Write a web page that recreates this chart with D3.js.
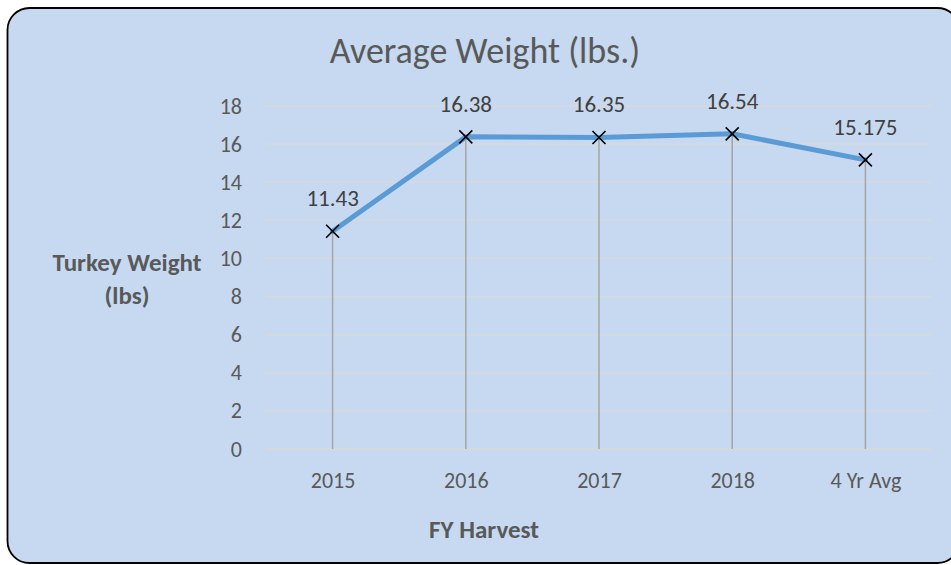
<!DOCTYPE html>
<html><head><meta charset="utf-8">
<script src="https://cdn.jsdelivr.net/npm/d3@7"></script>
<style>body{margin:0;background:#fff}svg{display:block}</style>
</head><body>
<svg id="c" width="951" height="565"></svg>
<script>
const categories = ["2015","2016","2017","2018","4 Yr Avg"];
const values = [11.43, 16.38, 16.35, 16.54, 15.175];
const valueLabels = ["11.43","16.38","16.35","16.54","15.175"];
const yTicks = [0,2,4,6,8,10,12,14,16,18];
const title = "Average Weight (lbs.)";
const xTitle = "FY Harvest";
const yTitle = ["Turkey Weight","(lbs)"];

const svg = d3.select("#c");
const font = "Carlito, Lato, 'Open Sans', sans-serif";
svg.append("rect").attr("x",7.5).attr("y",8).attr("width",952).attr("height",555)
  .attr("rx",22).attr("fill","#c6d9f0").attr("stroke","#000").attr("stroke-width",1.8);

const x = d3.scalePoint().domain(categories).range([266,932]).padding(0.5);
const y = d3.scaleLinear().domain([0,18]).range([449,106]);

// gridlines
svg.append("g").selectAll("line").data(yTicks).join("line")
  .attr("x1",266).attr("x2",932).attr("y1",d=>y(d)).attr("y2",d=>y(d))
  .attr("stroke","#d9d9d9").attr("stroke-width",1.3);

// y axis labels
const yAxis = svg.append("g").attr("transform","translate(254,0)")
  .call(d3.axisLeft(y).tickValues(yTicks).tickSize(0).tickPadding(12));
yAxis.select(".domain").remove();
yAxis.selectAll("text").attr("font-family",font).attr("font-size",22).attr("fill","#595959");

// x axis labels
const xAxis = svg.append("g").attr("transform","translate(0,488)")
  .call(d3.axisBottom(x).tickSize(0).tickPadding(0));
xAxis.select(".domain").remove();
xAxis.selectAll("text").attr("font-family",font).attr("font-size",22).attr("fill","#595959").attr("dy","0");

// drop lines
svg.append("g").selectAll("line").data(values).join("line")
  .attr("x1",(d,i)=>x(categories[i])).attr("x2",(d,i)=>x(categories[i]))
  .attr("y1",d=>y(d)).attr("y2",y(0))
  .attr("stroke","#a5a5a5").attr("stroke-width",1.5);

// line
const line = d3.line().x((d,i)=>x(categories[i])).y(d=>y(d));
svg.append("path").datum(values).attr("d",line).attr("fill","none")
  .attr("stroke","#5b9bd5").attr("stroke-width",5).attr("stroke-linejoin","round").attr("stroke-linecap","round");

// markers
const s = 6.5;
svg.append("g").selectAll("path").data(values).join("path")
  .attr("d",(d,i)=>{const cx=x(categories[i]), cy=y(d);
    return `M${cx-s},${cy-s}L${cx+s},${cy+s}M${cx-s},${cy+s}L${cx+s},${cy-s}`;})
  .attr("stroke","#000").attr("stroke-width",1.6).attr("fill","none");

// data labels
svg.append("g").selectAll("text").data(values).join("text")
  .attr("x",(d,i)=>x(categories[i])).attr("y",d=>y(d)-25)
  .attr("text-anchor","middle").attr("font-family",font).attr("font-size",23).attr("fill","#404040")
  .text((d,i)=>valueLabels[i]);

// titles
svg.append("text").attr("x",485).attr("y",63).attr("text-anchor","middle")
  .attr("font-family",font).attr("font-size",36).attr("fill","#595959").text(title);
svg.append("text").attr("x",484).attr("y",538).attr("text-anchor","middle")
  .attr("font-family",font).attr("font-size",25).attr("font-weight","bold").attr("fill","#595959").text(xTitle);
svg.append("g").selectAll("text").data(yTitle).join("text")
  .attr("x",127).attr("y",(d,i)=>271+i*33).attr("text-anchor","middle")
  .attr("font-family",font).attr("font-size",25).attr("font-weight","bold").attr("fill","#595959").text(d=>d);
</script>
</body></html>
